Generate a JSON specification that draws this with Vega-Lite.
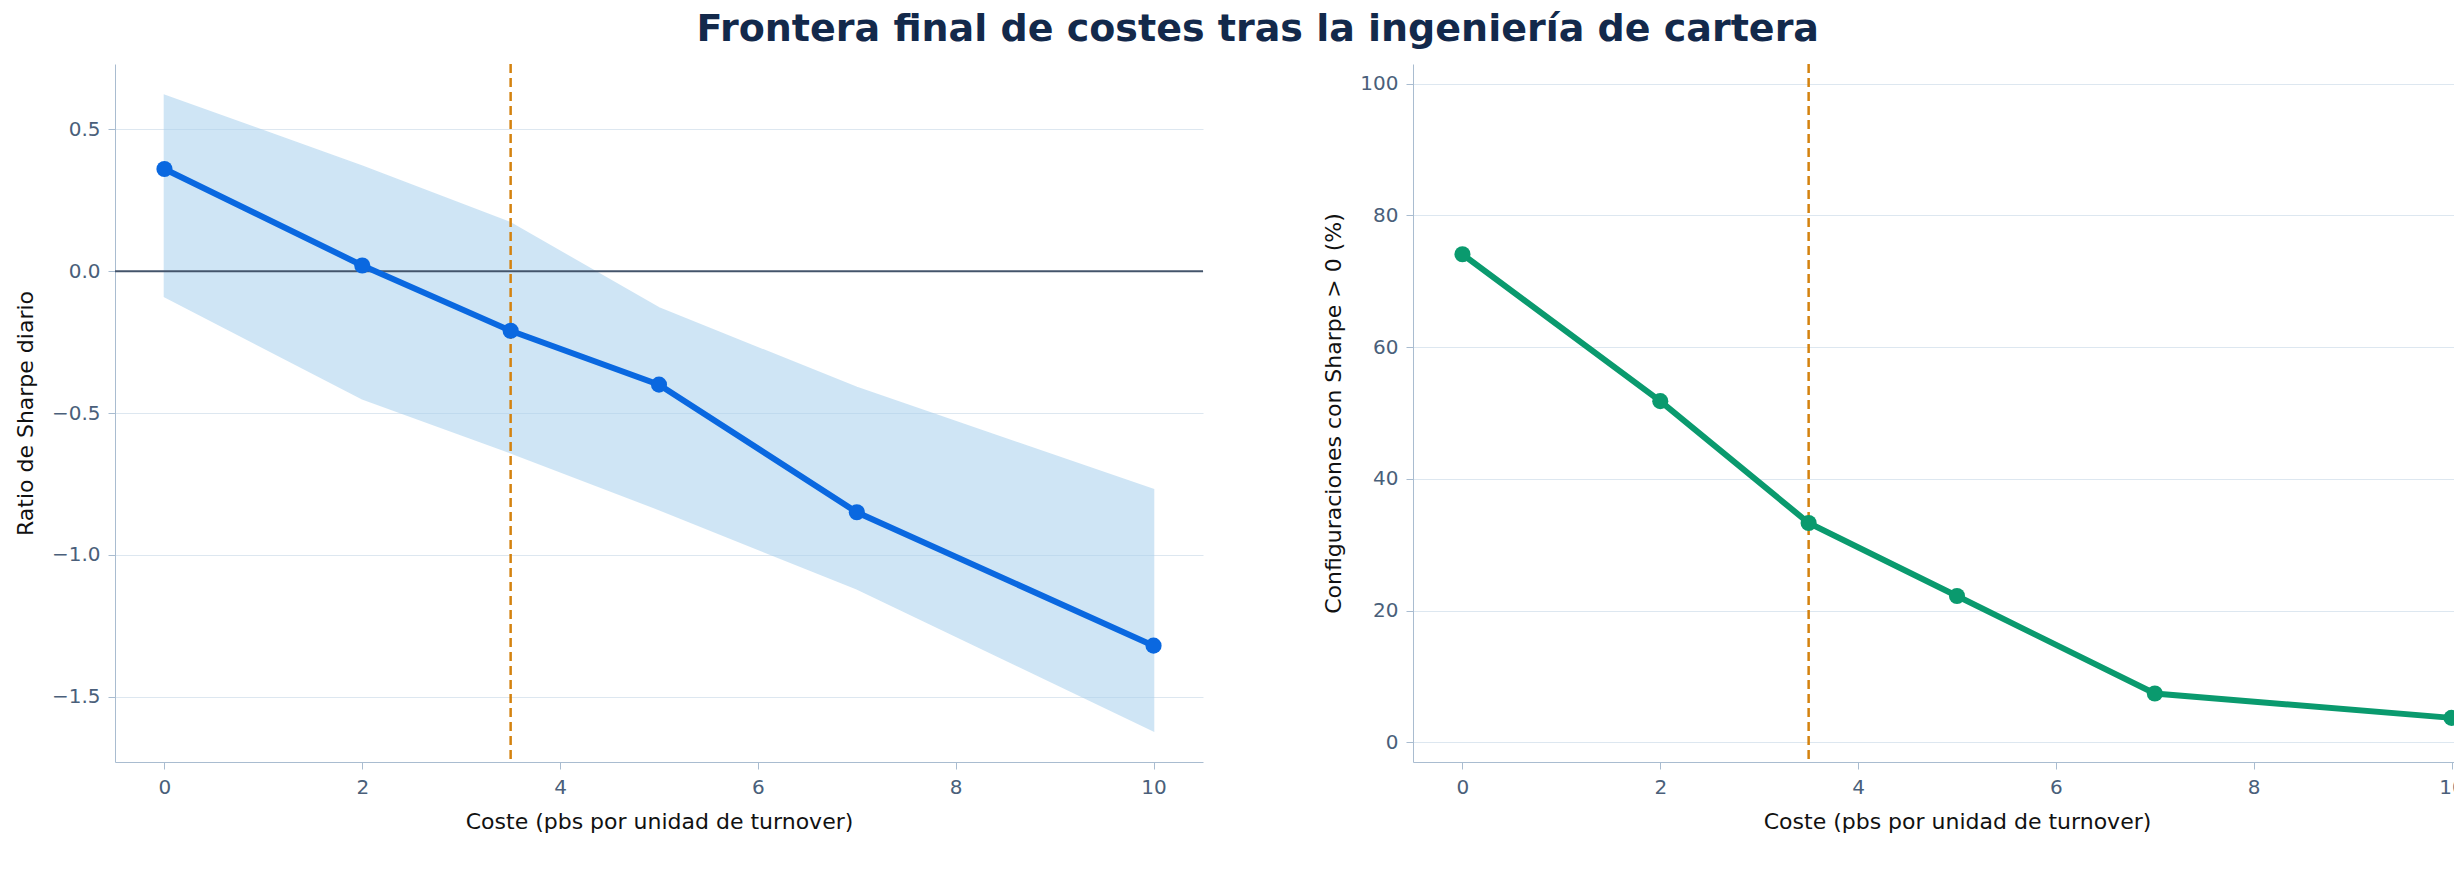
{
  "$schema": "https://vega.github.io/schema/vega-lite/v6.json",
  "background": "white",
  "padding": {"left": 14, "top": 10, "right": 18, "bottom": 8},
  "title": {"text": "Frontera final de costes tras la ingeniería de cartera", "fontSize": 38, "fontWeight": "bold", "color": "#13294b", "font": "DejaVu Sans", "offset": 14, "anchor": "middle"},
  "config": {
    "font": "DejaVu Sans",
    "view": {"stroke": null},
    "axis": {"labelFontSize": 20, "titleFontSize": 22, "labelColor": "#4a5f7a", "titleColor": "#111", "titleFontWeight": "normal", "domainColor": "#a9bcd0", "tickColor": "#a9bcd0", "tickSize": 7, "gridColor": "#dde7f0", "labelPadding": 8, "titlePadding": 14},
    "axisX": {"grid": false},
    "concat": {"spacing": 118}
  },
  "datasets": {
    "sharpe": [
      {"coste": 0, "sharpe": 0.36, "lo": -0.09, "hi": 0.62},
      {"coste": 2, "sharpe": 0.02, "lo": -0.45, "hi": 0.37},
      {"coste": 3.5, "sharpe": -0.21, "lo": -0.64, "hi": 0.17},
      {"coste": 5, "sharpe": -0.40, "lo": -0.84, "hi": -0.13},
      {"coste": 7, "sharpe": -0.85, "lo": -1.12, "hi": -0.41},
      {"coste": 10, "sharpe": -1.32, "lo": -1.62, "hi": -0.77}
    ],
    "pct": [
      {"coste": 0, "pct": 74.1},
      {"coste": 2, "pct": 51.8},
      {"coste": 3.5, "pct": 33.3},
      {"coste": 5, "pct": 22.2},
      {"coste": 7, "pct": 7.4},
      {"coste": 10, "pct": 3.7}
    ],
    "ref": [{"x": 3.5, "y": 0}]
  },
  "hconcat": [
    {
      "width": 1088,
      "height": 698,
      "layer": [
        {
          "data": {"name": "sharpe"},
          "mark": {"type": "area", "color": "#a9d1ee", "opacity": 0.55, "stroke": "#a9d1ee", "strokeWidth": 1.5},
          "encoding": {
            "x": {"field": "coste", "type": "quantitative", "scale": {"domain": [-0.5, 10.5], "nice": false}, "axis": {"values": [0, 2, 4, 6, 8, 10], "format": "d", "title": "Coste (pbs por unidad de turnover)"}},
            "y": {"field": "lo", "type": "quantitative", "scale": {"domain": [-1.73, 0.73], "nice": false}, "axis": {"values": [-1.5, -1.0, -0.5, 0, 0.5], "format": ".1f", "title": "Ratio de Sharpe diario", "labelExpr": "replace(datum.label, '-', '−')"}},
            "y2": {"field": "hi"}
          }
        },
        {
          "data": {"name": "ref"},
          "mark": {"type": "rule", "color": "#44556b", "strokeWidth": 2},
          "encoding": {"y": {"field": "y", "type": "quantitative"}}
        },
        {
          "data": {"name": "ref"},
          "mark": {"type": "rule", "color": "#d4820f", "strokeWidth": 2.5, "strokeDash": [9, 5]},
          "encoding": {"x": {"field": "x", "type": "quantitative"}}
        },
        {
          "data": {"name": "sharpe"},
          "mark": {"type": "line", "color": "#0a68e0", "strokeWidth": 6, "point": {"size": 260, "filled": true, "color": "#0a68e0", "opacity": 1}},
          "encoding": {
            "x": {"field": "coste", "type": "quantitative"},
            "y": {"field": "sharpe", "type": "quantitative"}
          }
        }
      ]
    },
    {
      "width": 1088,
      "height": 698,
      "layer": [
        {
          "data": {"name": "ref"},
          "mark": {"type": "rule", "color": "#d4820f", "strokeWidth": 2.5, "strokeDash": [9, 5]},
          "encoding": {"x": {"field": "x", "type": "quantitative", "scale": {"domain": [-0.5, 10.5], "nice": false}}}
        },
        {
          "data": {"name": "pct"},
          "mark": {"type": "line", "color": "#0a9a6e", "strokeWidth": 6, "point": {"size": 260, "filled": true, "color": "#0a9a6e", "opacity": 1}},
          "encoding": {
            "x": {"field": "coste", "type": "quantitative", "scale": {"domain": [-0.5, 10.5], "nice": false}, "axis": {"values": [0, 2, 4, 6, 8, 10], "format": "d", "title": "Coste (pbs por unidad de turnover)"}},
            "y": {"field": "pct", "type": "quantitative", "scale": {"domain": [-3, 103], "nice": false}, "axis": {"values": [0, 20, 40, 60, 80, 100], "title": "Configuraciones con Sharpe > 0 (%)"}}
          }
        }
      ]
    }
  ]
}
